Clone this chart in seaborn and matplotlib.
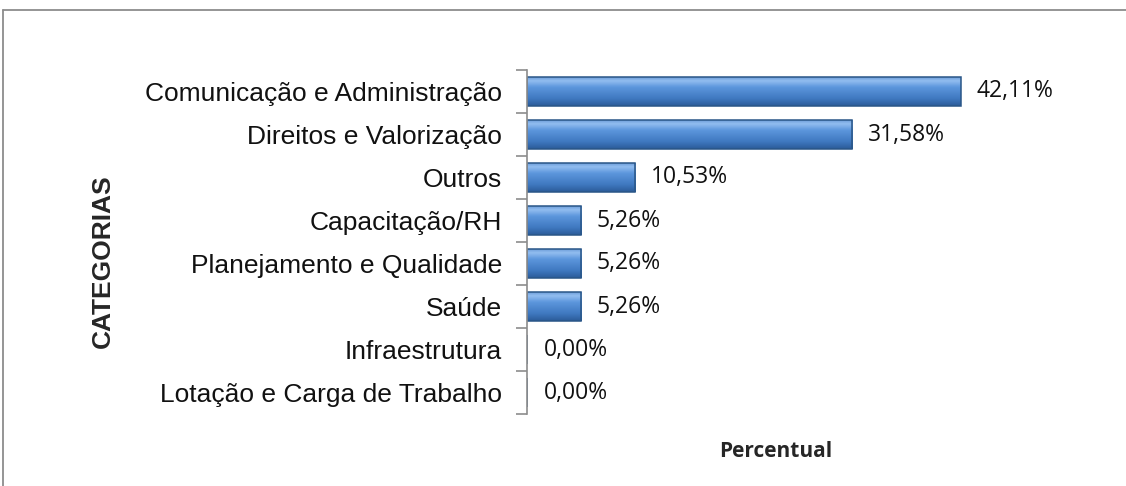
import matplotlib
matplotlib.use("Agg")
import matplotlib.pyplot as plt
import seaborn as sns
import pandas as pd
import numpy as np
from matplotlib.lines import Line2D
from matplotlib.colors import LinearSegmentedColormap

categories = ["Comunicação e Administração", "Direitos e Valorização", "Outros",
              "Capacitação/RH", "Planejamento e Qualidade", "Saúde",
              "Infraestrutura", "Lotação e Carga de Trabalho"]
values = [42.11, 31.58, 10.53, 5.26, 5.26, 5.26, 0.00, 0.00]
value_labels = ["42,11%", "31,58%", "10,53%", "5,26%", "5,26%", "5,26%", "0,00%", "0,00%"]

df = pd.DataFrame({"cat": categories, "val": values})

sns.set_theme(style="white")
plt.rcParams['font.family'] = ['Liberation Sans', 'DejaVu Sans']

W, H = 1126, 486
fig = plt.figure(figsize=(W / 100, H / 100), dpi=100)
ax_left, ax_right = 527, 1042
ax_top, ax_bot = 70, 414
ax = fig.add_axes([ax_left / W, 1 - ax_bot / H, (ax_right - ax_left) / W, (ax_bot - ax_top) / H])

sns.barplot(data=df, y="cat", x="val", orient="h", ax=ax, color="#4A7EBB",
            width=0.66, edgecolor="#2A5687", linewidth=1.1, saturation=1)

cmap = LinearSegmentedColormap.from_list("bev", [
    (0.0, "#6E9FDA"), (0.12, "#92BDF0"), (0.35, "#5C96DC"),
    (0.75, "#3F78C0"), (1.0, "#2B5C99")])
grad = np.linspace(0, 1, 64).reshape(-1, 1)
for p in list(ax.patches):
    x0, y0 = p.get_x(), p.get_y()
    w, h = p.get_width(), p.get_height()
    if w > 0:
        im = ax.imshow(grad, cmap=cmap, extent=[x0, x0 + w, y0 + h, y0],
                       aspect="auto", zorder=p.get_zorder() - 0.1, origin="upper",
                       interpolation="bilinear")
        im.set_clip_path(p)
        p.set_facecolor("none")
        p.set_zorder(p.get_zorder() + 0.5)

ax.set_xlim(0, 50)
ax.set_ylim(len(categories) - 0.5, -0.5)
ax.set_aspect("auto")

for i, (v, lab) in enumerate(zip(values, value_labels)):
    ax.annotate(lab, (v, i), xytext=(11 if v > 0 else 12, 0), textcoords="offset points",
                va="center", ha="left", fontsize=16.5, family=["Open Sans", "DejaVu Sans"],
                color="#111111")

ax.set_xticks([])
ax.set_yticks(range(len(categories)))
ax.set_yticklabels(categories, fontsize=19, color="#111111")
ax.tick_params(axis="y", which="major", length=0, pad=18)
ax.set_yticks(np.arange(-0.5, len(categories), 1), minor=True)
ax.tick_params(axis="y", which="minor", length=8, width=1.2, color="#8c8c8c", left=True)

for s in ["top", "right", "bottom"]:
    ax.spines[s].set_visible(False)
ax.spines["left"].set_color("#8c8c8c")
ax.spines["left"].set_linewidth(1.2)
ax.set_xlabel("")
ax.set_ylabel("")

fig.text(776 / W, 1 - 451 / H, "Percentual", ha="center", va="center",
         fontsize=15, fontweight="bold", family=["Open Sans", "DejaVu Sans"])
fig.text(103 / W, 1 - 261 / H, "CATEGORIAS", ha="center", va="center",
         rotation=90, fontsize=19, fontweight="bold")

# outer frame (top and left)
fig.add_artist(Line2D([3 / W, 1], [1 - 10 / H, 1 - 10 / H], color="#8c8c8c", lw=1.3))
fig.add_artist(Line2D([3 / W, 3 / W], [1 - 10 / H, 0], color="#8c8c8c", lw=1.3))

fig.savefig("out.png", dpi=100)
